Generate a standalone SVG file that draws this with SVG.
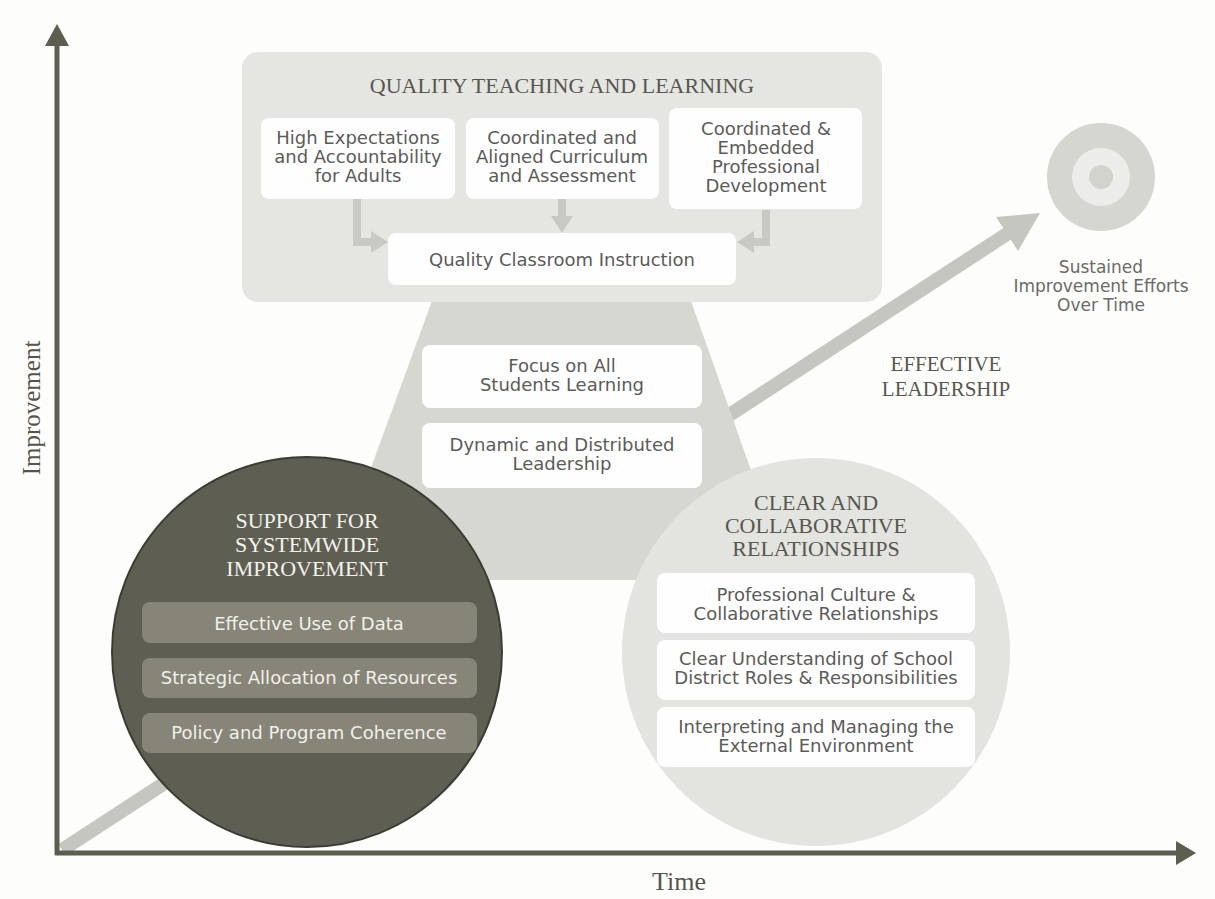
<svg xmlns="http://www.w3.org/2000/svg" width="1215" height="899" viewBox="0 0 1215 899">
<style>
.box{fill:#fefefe}
.t{font-family:"DejaVu Sans",sans-serif;font-size:18px;fill:#5b5b58;text-anchor:middle}
.tw{font-family:"DejaVu Sans",sans-serif;font-size:18px;fill:#f1f0ea;text-anchor:middle}
.h{font-family:"Liberation Serif",serif;font-size:22px;fill:#57574f;text-anchor:middle}
.hw{font-family:"Liberation Serif",serif;font-size:22px;fill:#f3f2ec;text-anchor:middle}
.ax{font-family:"Liberation Serif",serif;font-size:25px;fill:#55554d;text-anchor:middle}
.flow{fill:none;stroke:#c9c9c3;stroke-width:8}
.head{fill:#c9c9c3}
.dsub{fill:#878578}
</style>
<rect width="1215" height="899" fill="#fdfdfc"/>

<g id="connectors">
  <line x1="62" y1="850" x2="1010" y2="232" stroke="#c6c6c0" stroke-width="14"/>
  <polygon points="1040,213 996,217 1018,251" fill="#c6c6c0"/>
  <line x1="57" y1="855" x2="57" y2="42" stroke="#5d5d50" stroke-width="5"/>
  <polygon points="57,24 45,46 69,46" fill="#5d5d50"/>
  <line x1="55" y1="853" x2="1180" y2="853" stroke="#5d5d50" stroke-width="5"/>
  <polygon points="1196,853 1176,841 1176,865" fill="#5d5d50"/>
</g>

<g id="axis-labels">
  <text class="ax" transform="translate(40,408) rotate(-90)">Improvement</text>
  <text class="ax" x="679" y="890" style="font-size:26px">Time</text>
</g>

<g id="trapezoid">
  <polygon points="433,298 690,298 790,580 330,580" fill="#d7d7d2"/>
</g>

<g id="quality-teaching">
  <rect x="242" y="52" width="640" height="250" rx="16" fill="#e5e5e1"/>
  <text class="h" x="562" y="93">QUALITY TEACHING AND LEARNING</text>
</g>

<g id="flow-arrows">
  <polyline class="flow" points="357,199 357,242 372,242"/>
  <polygon class="head" points="388,242 371,231 371,253"/>
  <line class="flow" x1="562" y1="199" x2="562" y2="218"/>
  <polygon class="head" points="562,233 551,216 573,216"/>
  <polyline class="flow" points="766,210 766,242 752,242"/>
  <polygon class="head" points="737,242 754,231 754,253"/>
</g>

<g id="high-expectations">
  <rect class="box" x="261" y="118" width="194" height="81" rx="8"/>
  <text class="t" x="358" y="144">High Expectations</text>
  <text class="t" x="358" y="163">and Accountability</text>
  <text class="t" x="358" y="182">for Adults</text>
</g>

<g id="coordinated-curriculum">
  <rect class="box" x="466" y="118" width="193" height="81" rx="8"/>
  <text class="t" x="562" y="144">Coordinated  and</text>
  <text class="t" x="562" y="163">Aligned Curriculum</text>
  <text class="t" x="562" y="182">and Assessment</text>
</g>

<g id="coordinated-pd">
  <rect class="box" x="669" y="108" width="193" height="101" rx="8"/>
  <text class="t" x="766" y="135">Coordinated &amp;</text>
  <text class="t" x="766" y="154">Embedded</text>
  <text class="t" x="766" y="173">Professional</text>
  <text class="t" x="766" y="192">Development</text>
</g>

<g id="quality-classroom">
  <rect class="box" x="388" y="233" width="348" height="52" rx="8"/>
  <text class="t" x="562" y="266">Quality Classroom Instruction</text>
</g>

<g id="focus-students">
  <rect class="box" x="422" y="345" width="280" height="63" rx="8"/>
  <text class="t" x="562" y="372">Focus on All</text>
  <text class="t" x="562" y="391">Students Learning</text>
</g>

<g id="dynamic-leadership">
  <rect class="box" x="422" y="423" width="280" height="65" rx="8"/>
  <text class="t" x="562" y="451">Dynamic and Distributed</text>
  <text class="t" x="562" y="470">Leadership</text>
</g>

<g id="support-systemwide">
  <circle cx="307" cy="652" r="195" fill="#5f5e52" stroke="#3c3b34" stroke-width="2"/>
  <text class="hw" x="307" y="528">SUPPORT FOR</text>
  <text class="hw" x="307" y="552">SYSTEMWIDE</text>
  <text class="hw" x="307" y="576">IMPROVEMENT</text>
  <rect class="dsub" x="142" y="602" width="335" height="41" rx="8"/>
  <text class="tw" x="309" y="630">Effective Use of Data</text>
  <rect class="dsub" x="142" y="658" width="335" height="40" rx="8"/>
  <text class="tw" x="309" y="684">Strategic Allocation of Resources</text>
  <rect class="dsub" x="142" y="713" width="335" height="40" rx="8"/>
  <text class="tw" x="309" y="739">Policy and Program Coherence</text>
</g>

<g id="clear-collaborative">
  <circle cx="816" cy="652" r="194" fill="#e3e3df"/>
  <text class="h" x="816" y="510">CLEAR AND</text>
  <text class="h" x="816" y="533">COLLABORATIVE</text>
  <text class="h" x="816" y="556">RELATIONSHIPS</text>
  <rect class="box" x="657" y="573" width="318" height="60" rx="8"/>
  <text class="t" x="816" y="601">Professional Culture &amp;</text>
  <text class="t" x="816" y="620">Collaborative  Relationships</text>
  <rect class="box" x="657" y="640" width="318" height="60" rx="8"/>
  <text class="t" x="816" y="665">Clear Understanding of School</text>
  <text class="t" x="816" y="684">District Roles &amp; Responsibilities</text>
  <rect class="box" x="657" y="707" width="318" height="60" rx="8"/>
  <text class="t" x="816" y="733">Interpreting and Managing the</text>
  <text class="t" x="816" y="752">External Environment</text>
</g>

<g id="effective-leadership">
  <text class="h" x="946" y="371" style="font-size:21px">EFFECTIVE</text>
  <text class="h" x="946" y="396" style="font-size:21px">LEADERSHIP</text>
</g>

<g id="target">
  <circle cx="1101" cy="177" r="54" fill="#d6d6d1"/>
  <circle cx="1101" cy="177" r="29" fill="#ececea"/>
  <circle cx="1101" cy="177" r="12" fill="#d3d3ce"/>
  <text class="t" x="1101" y="273" style="font-size:17px;fill:#6a6a66">Sustained</text>
  <text class="t" x="1101" y="292" style="font-size:17px;fill:#6a6a66">Improvement Efforts</text>
  <text class="t" x="1101" y="311" style="font-size:17px;fill:#6a6a66">Over Time</text>
</g>
</svg>
